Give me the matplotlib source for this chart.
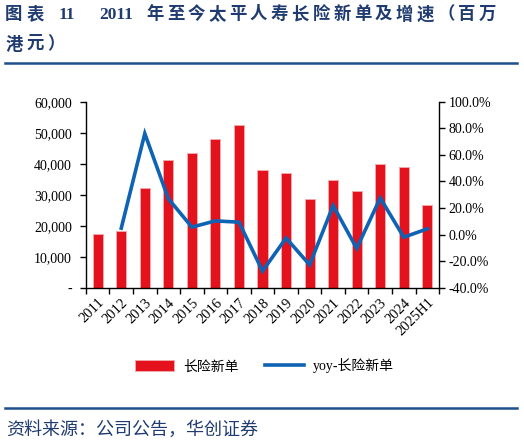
import matplotlib
matplotlib.use("Agg")
import matplotlib.pyplot as plt
import numpy as np
from matplotlib.ticker import FuncFormatter, MultipleLocator
from matplotlib.patches import Patch
from matplotlib.lines import Line2D

categories = ["2011", "2012", "2013", "2014", "2015", "2016", "2017", "2018",
              "2019", "2020", "2021", "2022", "2023", "2024", "2025H1"]
new_business = [17400, 18300, 32300, 41100, 43450, 48000, 52500, 38000,
                37100, 28600, 34800, 31200, 39800, 39000, 26800]
yoy = [np.nan, 4.8, 76.0, 27.0, 5.6, 10.3, 9.3, -27.5,
       -2.6, -22.8, 21.8, -10.4, 27.5, -2.0, 4.3]
legend_labels = ["长险新单", "yoy-长险新单"]
title_prefix = "图表"
title_num = "11"
title_year = "2011"
title_rest = "年至今太平人寿长险新单及增速（百万"
title_line2 = "港元）"
source_text = "资料来源：公司公告，华创证券"

FAM = ["Liberation Serif", "Noto Sans CJK SC", "DejaVu Sans"]
plt.rcParams["font.family"] = FAM
plt.rcParams["axes.unicode_minus"] = False

W, H = 524, 443
fig = plt.figure(figsize=(W / 100, H / 100), dpi=100)
ax = fig.add_axes([0.164, 0.3506, 0.674, 0.4198])
x = np.arange(len(categories))
ax.bar(x, new_business, width=0.43, color="#E3121C", edgecolor="#F2A7AB",
       linewidth=0.7, zorder=2)
ax.set_xlim(-0.5, len(categories) - 0.5)
ax.set_ylim(0, 60000)
ax.yaxis.set_major_locator(MultipleLocator(10000))
ax.yaxis.set_major_formatter(FuncFormatter(lambda v, p: "-" if v == 0 else f"{int(v):,}"))
ax.set_xticks(np.arange(-0.5, len(categories), 1.0))
ax.set_xticklabels([])
ax.set_xticks(x, minor=True)
ax.set_xticklabels(categories, minor=True, rotation=45, ha="right",
                   rotation_mode="anchor", fontsize=10.5)
ax.tick_params(axis="x", which="major", direction="out", length=4, width=1)
ax.tick_params(axis="x", which="minor", length=0, pad=6)
ax.tick_params(axis="y", direction="out", length=4, width=1, labelsize=10, pad=6)
ax.spines["top"].set_visible(False)
ax.spines["right"].set_visible(False)
for s in ["left", "bottom"]:
    ax.spines[s].set_linewidth(1.0)

ax2 = ax.twinx()
ax2.plot(x, yoy, color="#0F63B5", linewidth=2.6, zorder=3, solid_joinstyle="miter")
ax2.set_ylim(-40, 100)
ax2.yaxis.set_major_locator(MultipleLocator(20))
ax2.yaxis.set_major_formatter(FuncFormatter(lambda v, p: f"{v:.1f}%"))
ax2.tick_params(axis="y", direction="out", length=4, width=1, labelsize=10, pad=3)
ax2.spines["top"].set_visible(False)
ax2.spines["left"].set_visible(False)
ax2.spines["bottom"].set_visible(False)
ax2.spines["right"].set_linewidth(1.0)

handles = [Patch(facecolor="#E3121C", edgecolor="#F2A7AB", linewidth=0.7),
           Line2D([0], [0], color="#0F63B5", linewidth=2.6)]
fig.legend(handles, legend_labels, loc="center", bbox_to_anchor=(0.505, 0.174),
           ncol=2, frameon=False, fontsize=10, handlelength=2.8, handleheight=0.9,
           columnspacing=1.9, handletextpad=0.65)

navy = "#1F3B6F"
tkw = dict(fontsize=12.5, fontweight="bold", color=navy, va="center", ha="left")
y1 = 1 - 15 / H
pitch = 20.8
for i, ch in enumerate(title_prefix):
    fig.text((5 + 22 * i) / W, y1, ch, **tkw)
fig.text(59 / W, y1, title_num, **tkw)
fig.text(99 / W, y1, title_year, **tkw)
for i, ch in enumerate(title_rest):
    fig.text((146 + pitch * i) / W, y1, ch, **tkw)
y2 = 1 - 45 / H
for i, ch in enumerate(title_line2):
    fig.text((6 + pitch * i) / W, y2, ch, **tkw)

fig.add_artist(Line2D([0.01, 0.987], [0.858, 0.858], color="#1F4E8C", linewidth=1.8))
fig.add_artist(Line2D([0.01, 0.987], [0.078, 0.078], color="#1F4E8C", linewidth=1.8))
fig.text(6 / W, 1 - 430 / H, source_text, fontsize=13, color=navy, va="center",
         ha="left", style="italic")

fig.savefig("out.png", dpi=100)
